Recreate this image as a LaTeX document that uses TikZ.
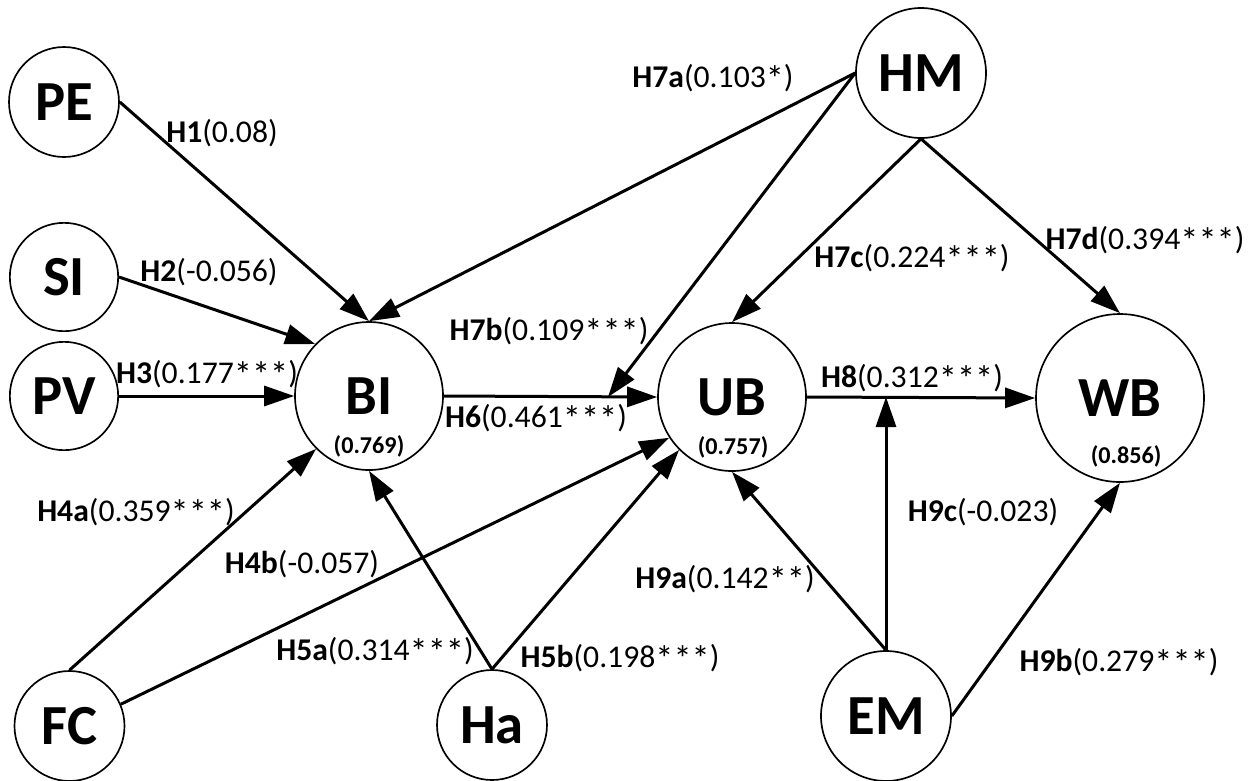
\documentclass[tikz,border=0pt]{standalone}
\usepackage{fontspec}
\usepackage{graphicx}
\setmainfont{Carlito}
\usetikzlibrary{arrows.meta}
\newcommand{\sstar}{\raisebox{-0.25ex}{\scalebox{1.15}{*}}}
\begin{document}
\begin{tikzpicture}[x=0.6pt,y=-0.6pt,
  var/.style={circle,draw,line width=1pt,inner sep=0pt,font=\fontsize{34}{40}\selectfont\bfseries},
  rsq/.style={font=\fontsize{14.5}{17}\selectfont\bfseries,inner sep=0pt},
  lab/.style={font=\fontsize{19}{22}\selectfont,inner sep=0pt},
  conn/.style={line width=1.8pt,-{Triangle[length=18pt,width=12pt]}}]
\useasboundingbox (0,0) rectangle (1250,780);
% variables
\node[var,minimum size=66pt] (PE) at (64,102) {PE};
\node[var,minimum size=65pt] (SI) at (64,277) {SI};
\node[var,minimum size=65pt] (PV) at (64,396) {PV};
\node[var,minimum size=88.8pt] (BI) at (369,396) {BI};
\node[var,minimum size=88.8pt] (UB) at (732,397) {UB};
\node[var,minimum size=100.8pt] (WB) at (1120,398) {WB};
\node[var,minimum size=78pt] (HM) at (921,73) {HM};
\node[var,minimum size=66pt] (FC) at (69.5,726) {FC};
\node[var,minimum size=66pt] (Ha) at (492,725) {Ha};
\node[var,minimum size=78pt] (EM) at (886,716) {EM};
% R squared
\node[rsq] (BIr) at (369,446) {(0.769)};
\node[rsq] (UBr) at (733,447) {(0.757)};
\node[rsq] (WBr) at (1126,456) {(0.856)};
% moderation points
\coordinate (H6mid) at (608,397);
\coordinate (H8mid) at (EM.north |- UB.east);
% connectors
\draw[conn] (PE.east) -- (BI.north);
\draw[conn] (SI.east) -- (BI.136);
\draw[conn] (PV.east) -- (BI.west);
\draw[conn] (FC.north) -- (BI.225);
\draw[conn] (FC.23) -- (UB.213);
\draw[conn] (Ha.north) -- (BI.south);
\draw[conn] (Ha.north) -- (UB.225);
\draw[conn] (BI.east) -- (UB.west);
\draw[conn] (HM.west) -- (BI.north);
\draw[conn] (HM.west) -- (H6mid);
\draw[conn] (HM.south) -- (UB.north);
\draw[conn] (HM.south) -- (WB.north);
\draw[conn] (UB.east) -- (WB.west);
\draw[conn] (EM.north) -- (UB.south);
\draw[conn] (EM.north) -- (H8mid);
\draw[conn] (EM.east) -- (WB.south);
% labels
\node[lab] (l1) at (222,133) {\textbf{H1}(0.08)};
\node[lab] (l2) at (209,272) {\textbf{H2}(-0.056)};
\node[lab] (l3) at (207,374) {\textbf{H3}(0.177\sstar\sstar\sstar)};
\node[lab] (l4a) at (136,512) {\textbf{H4a}(0.359\sstar\sstar\sstar)};
\node[lab] (l4b) at (302,564) {\textbf{H4b}(-0.057)};
\node[lab] (l5a) at (375,651) {\textbf{H5a}(0.314\sstar\sstar\sstar)};
\node[lab] (l5b) at (620,658) {\textbf{H5b}(0.198\sstar\sstar\sstar)};
\node[lab] (l6) at (536,418) {\textbf{H6}(0.461\sstar\sstar\sstar)};
\node[lab] (l7a) at (713,78) {\textbf{H7a}(0.103\sstar)};
\node[lab] (l7b) at (549,331) {\textbf{H7b}(0.109\sstar\sstar\sstar)};
\node[lab] (l7c) at (912,258) {\textbf{H7c}(0.224\sstar\sstar\sstar)};
\node[lab] (l7d) at (1145,240) {\textbf{H7d}(0.394\sstar\sstar\sstar)};
\node[lab] (l8) at (912,378) {\textbf{H8}(0.312\sstar\sstar\sstar)};
\node[lab] (l9a) at (725,579) {\textbf{H9a}(0.142\sstar\sstar)};
\node[lab] (l9b) at (1119,662) {\textbf{H9b}(0.279\sstar\sstar\sstar)};
\node[lab] (l9c) at (983,512) {\textbf{H9c}(-0.023)};
\end{tikzpicture}
\end{document}
